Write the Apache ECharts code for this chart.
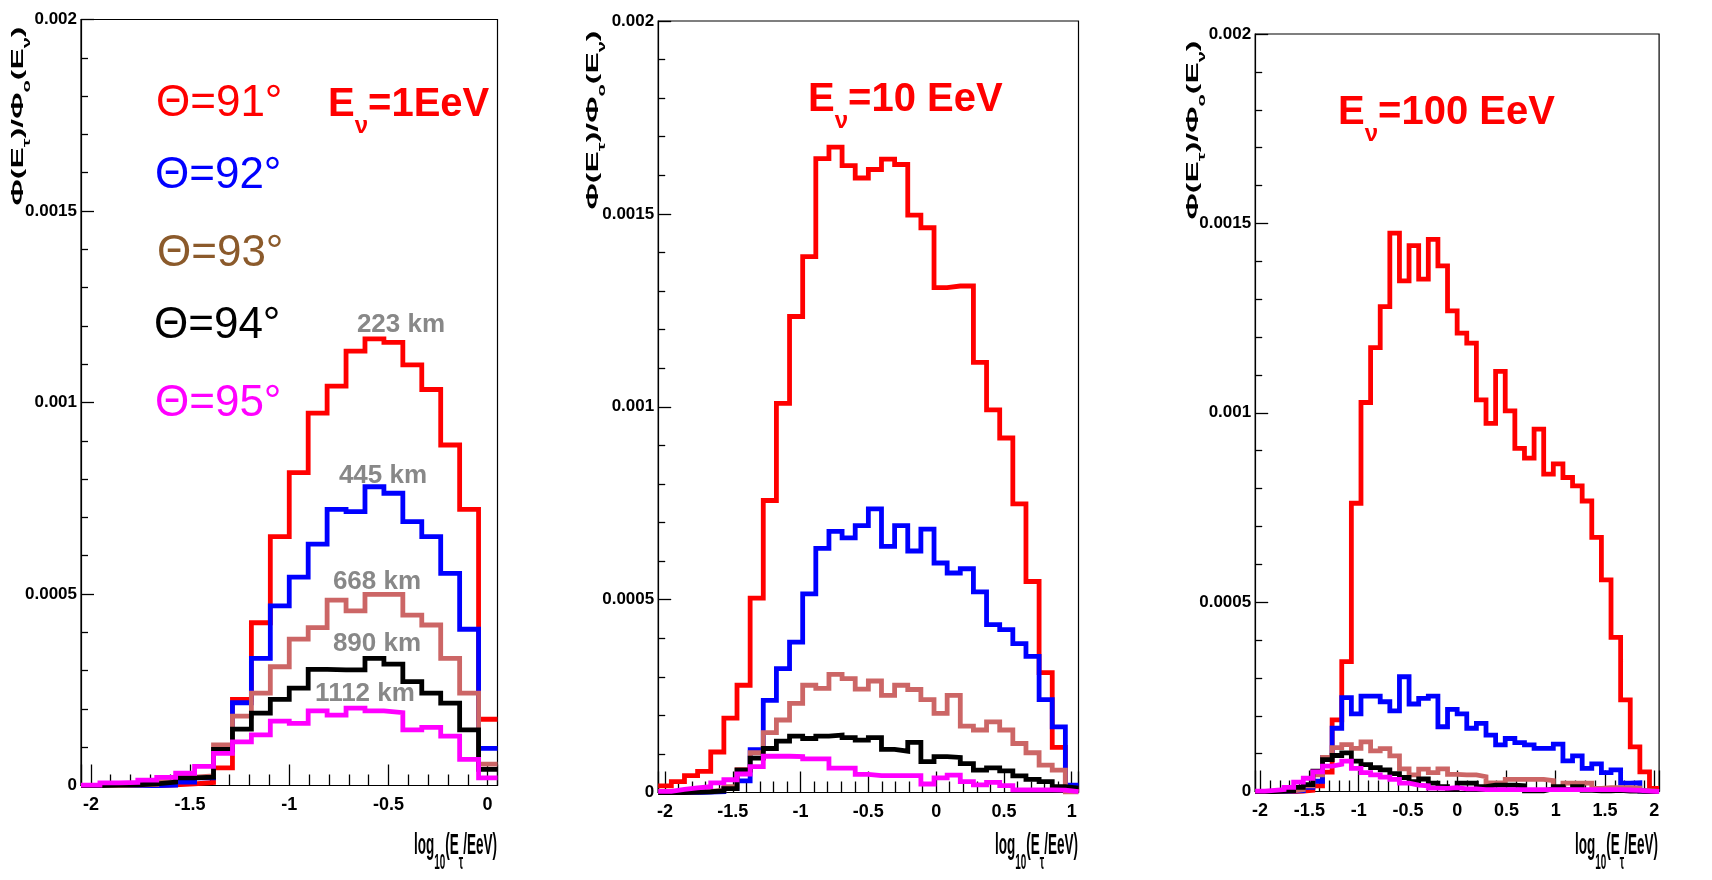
<!DOCTYPE html>
<html>
<head>
<meta charset="utf-8">
<script src="https://cdn.jsdelivr.net/npm/echarts@6/dist/echarts.min.js"></script>
<style>html,body{margin:0;padding:0;background:#fff}#c{width:1712px;height:880px}</style>
</head>
<body>
<div id="c"></div>
<script>
// ---------- data ----------
const panelXMin = [-2.05, -2.05, -2.05];
const panelXMax = [0.05, 1.05, 2.05];
const xTickLabels = [
  ["-2", "-1.5", "-1", "-0.5", "0"],
  ["-2", "-1.5", "-1", "-0.5", "0", "0.5", "1"],
  ["-2", "-1.5", "-1", "-0.5", "0", "0.5", "1", "1.5", "2"]
];
const yTickLabels = ["0", "0.0005", "0.001", "0.0015", "0.002"];
const seriesNames = ["Θ=91°", "Θ=92°", "Θ=93°", "Θ=94°", "Θ=95°"];
const energyLabels = ["=1EeV", "=10 EeV", "=100 EeV"];
const distanceLabels = ["223 km", "445 km", "668 km", "890 km", "1112 km"];

// Panel 1 : E_nu = 1 EeV (22 bins)
const red1 = [0, 0, 0, 0, 2e-6, 4e-6, 8e-6, 4.6e-5, 2.25e-4, 4.25e-4, 6.5e-4, 8.17e-4, 9.72e-4, 1.043e-3, 1.134e-3, 1.166e-3, 1.157e-3, 1.098e-3, 1.034e-3, 8.89e-4, 7.21e-4, 1.73e-4];
const blue1 = [0, 0, 0, 0, 1e-6, 9e-6, 2.0e-5, 9.2e-5, 2.16e-4, 3.32e-4, 4.69e-4, 5.44e-4, 6.3e-4, 7.21e-4, 7.15e-4, 7.8e-4, 7.63e-4, 6.89e-4, 6.5e-4, 5.54e-4, 4.08e-4, 9.7e-5];
const brown1 = [0, 0, 1e-6, 3e-6, 1.0e-5, 2.2e-5, 2.5e-5, 1.06e-4, 1.81e-4, 2.41e-4, 3.1e-4, 3.82e-4, 4.12e-4, 4.84e-4, 4.56e-4, 4.99e-4, 4.99e-4, 4.45e-4, 4.19e-4, 3.32e-4, 2.41e-4, 5.6e-5];
const black1 = [0, 1e-6, 2e-6, 4e-6, 9e-6, 2.0e-5, 2.2e-5, 9.4e-5, 1.47e-4, 1.89e-4, 2.25e-4, 2.54e-4, 3.03e-4, 3.02e-4, 3.02e-4, 3.32e-4, 3.17e-4, 2.71e-4, 2.41e-4, 2.15e-4, 1.45e-4, 4.2e-5];
const magenta1 = [1e-6, 7e-6, 8e-6, 1.4e-5, 2.1e-5, 3.2e-5, 5.0e-5, 8.4e-5, 1.14e-4, 1.32e-4, 1.68e-4, 1.62e-4, 1.95e-4, 1.84e-4, 2.02e-4, 1.95e-4, 1.9e-4, 1.45e-4, 1.52e-4, 1.29e-4, 6.8e-5, 2.0e-5];

// Panel 2 : E_nu = 10 EeV (32 bins)
const red2 = [1.7e-5, 2.8e-5, 4.4e-5, 5.5e-5, 1.05e-4, 1.93e-4, 2.78e-4, 5.04e-4, 7.57e-4, 1.009e-3, 1.234e-3, 1.389e-3, 1.643e-3, 1.673e-3, 1.625e-3, 1.593e-3, 1.615e-3, 1.642e-3, 1.628e-3, 1.497e-3, 1.464e-3, 1.309e-3, 1.313e-3, 1.313e-3, 1.115e-3, 9.92e-4, 9.19e-4, 7.48e-4, 5.47e-4, 3.11e-4, 1.17e-4, 1e-5];
const blue2 = [0, 0, 0, 1e-6, 2e-6, 1.0e-5, 3.0e-5, 1.11e-4, 2.39e-4, 3.21e-4, 3.9e-4, 5.15e-4, 6.33e-4, 6.77e-4, 6.6e-4, 6.92e-4, 7.35e-4, 6.38e-4, 6.92e-4, 6.26e-4, 6.83e-4, 5.95e-4, 5.69e-4, 5.8e-4, 5.2e-4, 4.35e-4, 4.22e-4, 3.86e-4, 3.53e-4, 2.41e-4, 1.7e-4, 1.9e-5];
const brown2 = [0, 1e-6, 2e-6, 3e-6, 6e-6, 1.5e-5, 6.0e-5, 1.03e-4, 1.55e-4, 1.88e-4, 2.31e-4, 2.78e-4, 2.7e-4, 3.06e-4, 2.95e-4, 2.68e-4, 2.89e-4, 2.52e-4, 2.78e-4, 2.67e-4, 2.41e-4, 2.05e-4, 2.52e-4, 1.72e-4, 1.62e-4, 1.83e-4, 1.62e-4, 1.27e-4, 1.03e-4, 7.1e-5, 5.8e-5, 2e-6];
const black2 = [0, 0, 1e-6, 2e-6, 4e-6, 1.0e-5, 5.8e-5, 8.9e-5, 1.14e-4, 1.33e-4, 1.46e-4, 1.4e-4, 1.46e-4, 1.49e-4, 1.42e-4, 1.36e-4, 1.42e-4, 1.12e-4, 1.07e-4, 1.3e-4, 8.0e-5, 9.3e-5, 9.1e-5, 7.5e-5, 5.8e-5, 6.4e-5, 5.6e-5, 4.3e-5, 3.4e-5, 2.8e-5, 1.5e-5, 1.1e-5];
const magenta2 = [3e-6, 8e-6, 1.2e-5, 1.5e-5, 2.5e-5, 3.3e-5, 4.8e-5, 6.7e-5, 9.4e-5, 9.4e-5, 9.3e-5, 8.7e-5, 8.7e-5, 6.3e-5, 6.3e-5, 4.7e-5, 4.4e-5, 4.4e-5, 4.4e-5, 4.4e-5, 2.2e-5, 3.8e-5, 4.5e-5, 2.8e-5, 2.0e-5, 2.6e-5, 1.8e-5, 7e-6, 7e-6, 7e-6, 6e-6, 2e-6];

// Panel 3 : E_nu = 100 EeV (42 bins)
const red3 = [0, 0, 0, 0, 1e-6, 3e-6, 1.5e-5, 5.1e-5, 1.89e-4, 3.43e-4, 7.61e-4, 1.027e-3, 1.172e-3, 1.28e-3, 1.474e-3, 1.348e-3, 1.441e-3, 1.353e-3, 1.458e-3, 1.388e-3, 1.269e-3, 1.21e-3, 1.184e-3, 1.034e-3, 9.72e-4, 1.109e-3, 1.005e-3, 9.06e-4, 8.8e-4, 9.57e-4, 8.38e-4, 8.65e-4, 8.29e-4, 8.07e-4, 7.67e-4, 6.71e-4, 5.59e-4, 4.07e-4, 2.42e-4, 1.18e-4, 5.2e-5, 8e-6];
const blue3 = [0, 0, 0, 1e-6, 2e-6, 1.1e-5, 2.7e-5, 9.0e-5, 1.67e-4, 2.48e-4, 2.05e-4, 2.52e-4, 2.52e-4, 2.37e-4, 2.13e-4, 3.03e-4, 2.31e-4, 2.46e-4, 2.52e-4, 1.71e-4, 2.17e-4, 2.05e-4, 1.67e-4, 1.8e-4, 1.49e-4, 1.23e-4, 1.4e-4, 1.29e-4, 1.23e-4, 1.14e-4, 1.14e-4, 1.25e-4, 8.1e-5, 9.4e-5, 6.1e-5, 7.3e-5, 5.0e-5, 5.7e-5, 2.2e-5, 2.3e-5, 1e-6, 0];
const brown3 = [0, 0, 1e-6, 2e-6, 5e-6, 1.5e-5, 4.4e-5, 9.0e-5, 1.16e-4, 1.24e-4, 1.14e-4, 1.31e-4, 1.07e-4, 1.13e-4, 9.4e-5, 6.0e-5, 4.4e-5, 5.9e-5, 5.0e-5, 6.0e-5, 4.5e-5, 4.4e-5, 4.4e-5, 3.9e-5, 2.3e-5, 2.3e-5, 3.2e-5, 3.2e-5, 3.2e-5, 3.2e-5, 2.9e-5, 1.1e-5, 2.2e-5, 2.2e-5, 2.2e-5, 8e-6, 1e-5, 1e-5, 1e-5, 9e-6, 2e-6, 0];
const black3 = [0, 0, 1e-6, 2e-6, 1.1e-5, 1.8e-5, 5.4e-5, 8.4e-5, 9.5e-5, 1.02e-4, 8.0e-5, 7.1e-5, 6.3e-5, 5.7e-5, 4.7e-5, 3.7e-5, 2.6e-5, 3.3e-5, 2.2e-5, 1.3e-5, 7e-6, 2.2e-5, 2.2e-5, 1.3e-5, 1.7e-5, 1.7e-5, 1.7e-5, 1.5e-5, 2e-6, 2e-6, 7e-6, 1.3e-5, 5e-6, 1.3e-5, 3e-6, 2e-6, 2e-6, 3e-6, 1e-6, 1e-6, 0, 0];
const magenta3 = [1e-6, 3e-6, 5e-6, 1.1e-5, 2.5e-5, 3.5e-5, 5.2e-5, 6.7e-5, 7.2e-5, 8.0e-5, 6.1e-5, 5.0e-5, 4.4e-5, 3.8e-5, 3.2e-5, 2.2e-5, 1.7e-5, 1.5e-5, 9e-6, 8e-6, 1.0e-5, 7e-6, 7e-6, 5e-6, 5e-6, 5e-6, 5e-6, 5e-6, 5e-6, 5e-6, 5e-6, 5e-6, 5e-6, 5e-6, 5e-6, 5e-6, 5e-6, 5e-6, 4e-6, 3e-6, 1e-6, 0];

// ---------- styling ----------
const lineColors = ['#ff0000', '#0000ff', '#cc6666', '#000000', '#ff00ff'];
const textColors = ['#ff0000', '#0000ff', '#8b5a2b', '#000000', '#ff00ff'];
const panelValues = [
  [red1, blue1, brown1, black1, magenta1],
  [red2, blue2, brown2, black2, magenta2],
  [red3, blue3, brown3, black3, magenta3]
];
const grids = [
  {left: 81, top: 19.5, width: 416.5, height: 766},
  {left: 658.2, top: 21, width: 420.3, height: 771.5},
  {left: 1255.2, top: 34, width: 403.9, height: 757.5}
];
const NARROW = "'Liberation Sans Narrow', 'Noto Sans ExtraCondensed', 'Noto Sans Condensed', 'Liberation Sans', sans-serif";
const SANS = "'Liberation Sans', Arial, sans-serif";

function fmt(v) { return String(+Number(v).toFixed(6)); }

const chart = echarts.init(document.getElementById('c'), null, {renderer: 'canvas', width: 1712, height: 880});

const gridOpt = grids.map(g => Object.assign({show: true, borderColor: '#000', borderWidth: 1.2, backgroundColor: 'transparent', containLabel: false, outerBoundsMode: 'none'}, g));

const xAxes = panelXMin.map((mn, p) => ({
  type: 'value', gridIndex: p, min: mn, max: panelXMax[p],
  minInterval: 0.5, maxInterval: 0.5, splitNumber: 8,
  axisLine: {show: true, onZero: false, lineStyle: {color: '#000', width: 1.2}},
  axisTick: {show: true, inside: true, length: 21, lineStyle: {color: '#000', width: 1.3}},
  minorTick: {show: true, splitNumber: 5, length: 11, lineStyle: {color: '#000', width: 1.3}},
  splitLine: {show: false}, minorSplitLine: {show: false},
  axisLabel: {
    margin: 11, color: '#000', fontFamily: NARROW, fontWeight: 'bold', fontSize: 18,
    formatter: v => { const s = fmt(v); return xTickLabels[p].indexOf(s) >= 0 ? s : ''; }
  }
}));

const yAxes = panelXMin.map((mn, p) => ({
  type: 'value', gridIndex: p, min: 0, max: 0.002, interval: 0.0005,
  axisLine: {show: true, onZero: false, lineStyle: {color: '#000', width: 1.2}},
  axisTick: {show: true, inside: true, length: 13, lineStyle: {color: '#000', width: 1.3}},
  minorTick: {show: true, splitNumber: 5, length: 7, lineStyle: {color: '#000', width: 1.3}},
  splitLine: {show: false}, minorSplitLine: {show: false},
  axisLabel: {
    margin: 4, color: '#000', fontFamily: NARROW, fontWeight: 'bold', fontSize: 17,
    formatter: v => { const s = fmt(v); return yTickLabels.indexOf(s) >= 0 ? s : ''; }
  }
}));

const series = [];
panelValues.forEach((vals, p) => {
  vals.forEach((arr, k) => {
    const n = arr.length;
    const w = (panelXMax[p] - panelXMin[p]) / n;
    const data = arr.map((v, i) => [panelXMin[p] + i * w, v]);
    data.push([panelXMax[p], arr[n - 1]]);
    series.push({
      type: 'line', name: seriesNames[k], xAxisIndex: p, yAxisIndex: p,
      step: 'end', data: data, symbol: 'none', showSymbol: false,
      lineStyle: {color: lineColors[k], width: 4.8, join: 'miter'},
      itemStyle: {color: lineColors[k]},
      silent: true, animation: false, z: 2 + k, clip: true
    });
  });
});

// ---------- annotation texts ----------
const graphics = [];
function txt(x, y, text, rich, align, extra) {
  graphics.push(Object.assign({
    type: 'text', x: x, y: y, silent: true, z: 100,
    style: {text: text, rich: rich, textAlign: align, align: align, textVerticalAlign: 'middle', verticalAlign: 'middle'}
  }, extra || {}));
}
// y-axis titles
const yTitleRich = {
  m: {fontSize: 16, fontWeight: 'bold', fontFamily: SANS, fill: '#000', lineHeight: 26},
  s: {fontSize: 10, fontWeight: 'bold', fontFamily: SANS, fill: '#000', lineHeight: 10, verticalAlign: 'bottom'}
};
const yTitleText = '{m|Φ(E}{s|τ}{m|)/Φ}{s|o}{m|(E}{s|ν}{m|)}';
[[19, 116], [594, 120], [1194, 130]].forEach(pos => {
  txt(pos[0], pos[1], yTitleText, yTitleRich, 'center', {rotation: Math.PI / 2, scaleX: 2.0, scaleY: 1});
});
// x-axis titles
const xTitleRich = {
  m: {fontSize: 30, fontWeight: 'bold', fontFamily: SANS, fill: '#000', lineHeight: 56},
  s: {fontSize: 22, fontWeight: 'bold', fontFamily: SANS, fill: '#000', lineHeight: 22, verticalAlign: 'bottom'}
};
const xTitleText = '{m|log}{s|10}{m|(E}{s|τ}{m|/EeV)}';
[[497, 846], [1078, 846], [1658, 846]].forEach(pos => {
  txt(pos[0], pos[1], xTitleText, xTitleRich, 'right', {scaleX: 0.45, scaleY: 1});
});
// energy labels
const eRich = {
  b: {fontSize: 40, fontWeight: 'bold', fontFamily: SANS, fill: '#ff0000', lineHeight: 66},
  s: {fontSize: 24, fontWeight: 'bold', fontFamily: SANS, fill: '#ff0000', lineHeight: 24, verticalAlign: 'bottom'}
};
[[328, 105], [808, 100], [1338, 113]].forEach((pos, i) => {
  txt(pos[0], pos[1], '{b|E}{s|ν}{b|' + energyLabels[i] + '}', eRich, 'left');
});
// theta legend (panel 1)
[[156, 104], [155, 176], [157, 254], [154, 326], [155, 404]].forEach((pos, k) => {
  txt(pos[0], pos[1], '{t|' + seriesNames[k] + '}', {t: {fontSize: 44, fontFamily: SANS, fill: textColors[k]}}, 'left');
});
// distance labels (panel 1)
[[401, 325], [383, 476], [377, 582], [377, 644], [365, 694]].forEach((pos, k) => {
  txt(pos[0], pos[1], '{d|' + distanceLabels[k] + '}', {d: {fontSize: 26, fontWeight: 'bold', fontFamily: SANS, fill: '#888888'}}, 'center');
});

chart.setOption({
  backgroundColor: '#ffffff',
  animation: false,
  grid: gridOpt,
  xAxis: xAxes,
  yAxis: yAxes,
  series: series,
  graphic: {elements: graphics}
});
</script>
</body>
</html>
